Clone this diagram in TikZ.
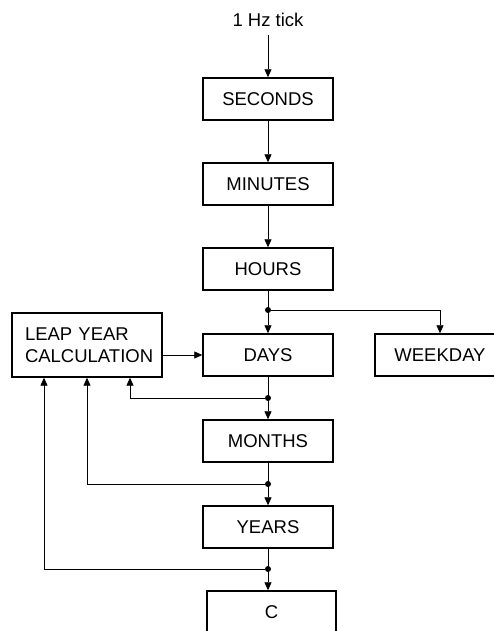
\documentclass[tikz,border=0pt]{standalone}
\usepackage{fontspec}
\setmainfont{Liberation Sans}
\usetikzlibrary{arrows.meta}
\begin{document}
\begin{tikzpicture}[x=1pt,y=1pt,
  blk/.style={draw,line width=1.4pt,minimum width=130pt,minimum height=42pt,inner sep=0pt,font=\fontsize{18.5}{22}\selectfont},
  conn/.style={line width=0.8pt,-{Triangle[length=8pt,width=7pt]}},
  dot/.style={circle,fill,inner sep=0pt,minimum size=6pt}]
\useasboundingbox (0,0) rectangle (494,631);
\clip (0,0) rectangle (494,631);
\node[font=\fontsize{18.5}{22}\selectfont] (tick) at (268,611) {1 Hz tick};
\node[blk] (sec) at (268,532) {SECONDS};
\node[blk] (min) at (268,447) {MINUTES};
\node[blk] (hrs) at (268,362) {HOURS};
\node[blk] (days) at (268,276) {DAYS};
\node[blk] (mon) at (268,190) {MONTHS};
\node[blk] (yrs) at (268,104) {YEARS};
\node[blk,minimum width=129pt] (c) at (271.5,19) {C};
\node[blk] (wk) at (440,276) {WEEKDAY};
\node[blk,minimum width=150pt,minimum height=64pt,align=left,text width=124pt,inner xsep=13pt] (leap) at (87,286) {LEAP YEAR\\CALCULATION};
\coordinate (tk) at (268,596);
\node[dot] (d1) at (268,321) {};
\node[dot] (d2) at (268,233) {};
\node[dot] (d3) at (268,147) {};
\node[dot] (d4) at (268,62) {};
\draw[conn] (tk) -- (sec);
\draw[conn] (sec) -- (min);
\draw[conn] (min) -- (hrs);
\draw[conn] (hrs) -- (days);
\draw[conn] (d1) -| (wk);
\draw[conn] (leap.east |- days) -- (days.west);
\draw[conn] (days) -- (mon);
\draw[conn] (mon) -- (yrs);
\draw[conn] (yrs) -- (c.north -| yrs);
\draw[conn] (d2) -| (leap.south -| 130,0);
\draw[conn] (d3) -| (leap.south);
\draw[conn] (d4) -| (leap.south -| 44,0);
\end{tikzpicture}
\end{document}
